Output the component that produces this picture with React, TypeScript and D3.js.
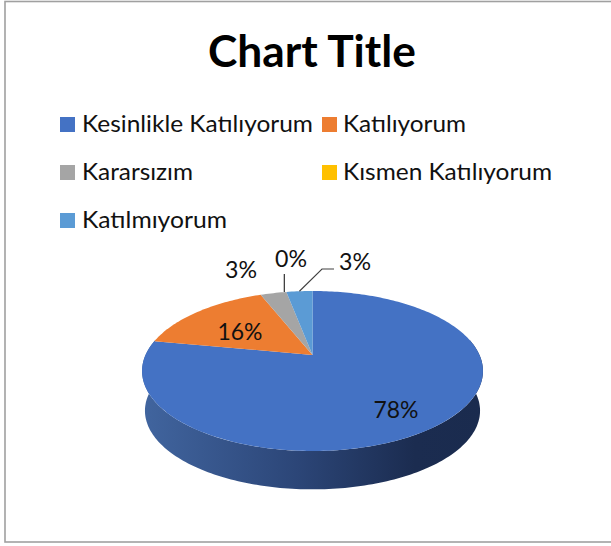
import React from "react";
import * as d3 from "d3";

const categories = ["Kesinlikle Katılıyorum", "Katılıyorum", "Kararsızım", "Kısmen Katılıyorum", "Katılmıyorum"];
const values = [78, 16, 3, 0, 3];
const colors = ["#4472c4", "#ed7d31", "#a5a5a5", "#ffc000", "#5b9bd5"];
const title = "Chart Title";

const CX = 312.5, CY = 355, K = 0.2, AX = 167, AY = 76.8;
const project = (a: number, scale = 1, dy = 0): [number, number] => {
  const u = Math.sin(a), v = -Math.cos(a), w = 1 - K * v;
  return [CX + (scale * AX * u) / w, CY + dy + (scale * AY * v) / w];
};
const arcPts = (a0: number, a1: number, scale = 1, dy = 0) => {
  const n = Math.max(2, Math.ceil(Math.abs(a1 - a0) / 0.02));
  return d3.range(n + 1).map((i) => project(a0 + ((a1 - a0) * i) / n, scale, dy));
};
const line = d3.line();
const pie = d3.pie<number>().sort(null);
const arcs = pie(values);

const legendPos = [
  { x: 60, tx: 82, y: 124, w: 231 },
  { x: 322, tx: 343, y: 124, w: 123 },
  { x: 60, tx: 82, y: 172, w: 111 },
  { x: 322, tx: 343, y: 172, w: 209 },
  { x: 60, tx: 82, y: 220, w: 145 },
];
const labels = [
  { t: "78%", x: 396, y: 418, w: 45 },
  { t: "16%", x: 240, y: 340, w: 45 },
  { t: "3%", x: 241, y: 278, w: 32 },
  { t: "0%", x: 291, y: 267, w: 32 },
  { t: "3%", x: 355, y: 270, w: 32 },
];
const FONT = "Lato, Carlito, sans-serif";

export default function App() {
  const sideA0 = Math.PI / 2 - 0.2;
  const sideA1 = (3 * Math.PI) / 2 + 0.2;
  const sidePts = [...arcPts(sideA0, sideA1), ...arcPts(sideA1, sideA0, 0.983, 40)];
  const mid = (a: (typeof arcs)[number]) => (a.startAngle + a.endAngle) / 2;
  const p0 = project(arcs[3].startAngle);
  const p1 = project(mid(arcs[4]));
  return (
    <svg width={611} height={546} style={{ position: "absolute", left: 0, top: 0 }}>
      <defs>
        <linearGradient id="side" gradientUnits="userSpaceOnUse" x1={142} x2={483} y1={0} y2={0}>
          <stop offset="0" stopColor="#41659f" />
          <stop offset="0.45" stopColor="#2c4678" />
          <stop offset="0.8" stopColor="#1b2c50" />
          <stop offset="1" stopColor="#1a2b4e" />
        </linearGradient>
      </defs>
      <rect x={0} y={0} width={611} height={546} fill="#fff" />
      <rect x={5} y={1.5} width={640} height={540.5} fill="#fff" stroke="#a0a0a0" strokeWidth={1.6} />
      <text x={312} y={67} textAnchor="middle" fontFamily={FONT} fontWeight={700} fontSize={44} textLength={208} lengthAdjust="spacingAndGlyphs" fill="#000">{title}</text>
      {categories.map((c, i) => (
        <g key={c}>
          <rect x={legendPos[i].x} y={legendPos[i].y - 7} width={15} height={15} fill={colors[i]} />
          <text x={legendPos[i].tx} y={legendPos[i].y + 8} fontFamily={FONT} fontSize={23} textLength={legendPos[i].w} lengthAdjust="spacingAndGlyphs" fill="#111">{c}</text>
        </g>
      ))}
      <path d={line(sidePts as [number, number][]) + "Z"} fill="url(#side)" />
      {arcs.map((a, i) =>
        a.endAngle > a.startAngle ? (
          <path key={i} d={line([[CX, CY], ...arcPts(a.startAngle, a.endAngle)] as [number, number][]) + "Z"} fill={colors[i]} />
        ) : null
      )}
      <line x1={p0[0] - 2} y1={274} x2={p0[0] - 2} y2={p0[1]} stroke="#404040" strokeWidth={1.3} />
      <path d={`M${p1[0]},${p1[1]}L322,269H334`} fill="none" stroke="#404040" strokeWidth={1.1} />
      {labels.map((l, i) => (
        <text key={i} x={l.x} y={l.y} textAnchor="middle" fontFamily={FONT} fontSize={24} textLength={l.w} lengthAdjust="spacingAndGlyphs" fill="#111">{l.t}</text>
      ))}
    </svg>
  );
}
